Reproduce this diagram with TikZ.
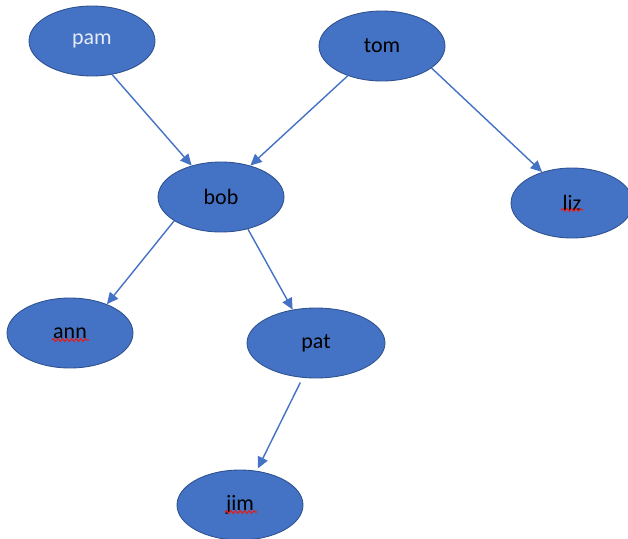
\documentclass[tikz,border=0pt]{standalone}
\usepackage{fontspec}
\setmainfont{Carlito}
\usetikzlibrary{shapes.geometric,arrows.meta,calc,decorations.pathmorphing}
\definecolor{nodefill}{HTML}{4472C4}
\definecolor{nodeedge}{HTML}{2F528F}
\definecolor{arrowcol}{HTML}{4472C4}
\definecolor{spell}{HTML}{E02020}
\definecolor{lighttext}{HTML}{E4EBF7}
\tikzset{
  person/.style={ellipse, fill=nodefill, draw=nodeedge, line width=0.5pt,
    minimum width=2.52cm, minimum height=1.4cm, inner sep=0pt,
    font=\fontsize{12.5}{14}\selectfont, text=black},
  link/.style={draw=arrowcol, line width=0.8pt,
    -{Triangle[length=6.5pt,width=6pt]}},
  squig/.style={draw=spell, line width=0.65pt,
    decorate, decoration={snake, amplitude=0.8pt, segment length=2.6pt}}
}
\begin{document}
\begin{tikzpicture}[x=0.02cm,y=-0.02cm]
\useasboundingbox (0,0) rectangle (628,538);
\node[person, text=lighttext] (pam) at (92,41) {pam};
\node[person] (tom) at (382,46) {tom};
\node[person] (bob) at (221,197) {bob};
\node[person, minimum width=2.44cm] (liz) at (572,203) {liz};
\node[person] (ann) at (70,333) {ann};
\node[person, minimum width=2.76cm] (pat) at (316,343) {pat};
\node[person] (jim) at (240,505) {jim};

\draw[link] (pam.-59.5) -- (bob.133);
\draw[link] (tom.221.5) -- (bob.47.8);
\draw[link] (tom.-24.3) -- (liz.134);
\draw[link] (bob.207) -- (ann.38);
\draw[link] (bob.-50.7) -- (pat.125.8);
\draw[link, shorten <=3pt, shorten >=1.5pt] (pat.-111.8) -- (jim.64.6);

\draw[squig] ($(ann)+(-18,7)$) coordinate (annA) -- ($(ann)+(19,7)$) coordinate (annB);
\draw[squig] ($(liz)+(-11,7)$) coordinate (lizA) -- ($(liz)+(11,7)$) coordinate (lizB);
\draw[squig] ($(jim)+(-15,7)$) coordinate (jimA) -- ($(jim)+(17,7)$) coordinate (jimB);
\end{tikzpicture}
\end{document}
